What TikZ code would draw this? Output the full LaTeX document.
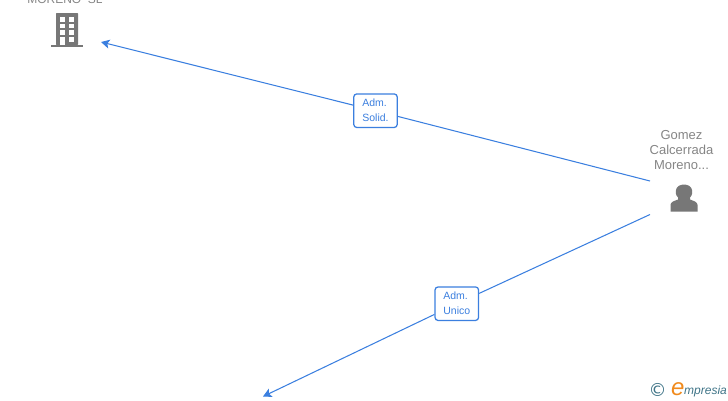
\documentclass[tikz,border=0pt]{standalone}
\usepackage{fontspec}
\setmainfont{Liberation Sans}
\newfontfamily\logofont{DejaVu Sans}
\usetikzlibrary{arrows.meta}
\definecolor{linkblue}{HTML}{3B7FDF}
\definecolor{icongray}{HTML}{777777}
\definecolor{labelgray}{HTML}{858585}
\definecolor{logoteal}{HTML}{3F7487}
\definecolor{logoorange}{HTML}{F08A1D}
\tikzset{
 link/.style={draw=linkblue,line width=1.05pt},
 arrowlink/.style={link,-{Stealth[length=8.5pt,width=9pt,inset=2pt]}},
 tag/.style={draw=linkblue,fill=white,rounded corners=3pt,line width=1.25pt,minimum width=43.5pt,minimum height=33.5pt,inner sep=0pt,align=left,text=linkblue,font=\fontsize{10.5}{15}\selectfont},
 namelabel/.style={text=labelgray,align=center,inner sep=0pt,font=\fontsize{13}{15}\selectfont}
}
\begin{document}
\begin{tikzpicture}[x=1pt,y=-1pt]
\useasboundingbox (0,0) rectangle (728,400);
% free ends
\coordinate (topend) at (101,42);
\coordinate (botend) at (263,396.5);
\coordinate (persA) at (650,181);
\coordinate (persB) at (650,214.5);
% labels
\node[tag] (solid) at (375.5,110.7) {\rule{0pt}{7pt}Adm.\\Solid.};
\node[tag] (unico) at (456.8,303.7) {\rule{0pt}{7pt}Adm.\\Unico};
% connectors
\draw[link] (persA) -- (solid);
\draw[arrowlink] (solid) -- (topend);
\draw[link] (persB) -- (unico);
\draw[arrowlink] (unico) -- (botend);
% company label
\node[namelabel,anchor=base,font=\fontsize{12}{15}\selectfont] (company) at (65,3) {MORENO\ \ SL};
% building icon
\fill[icongray,rounded corners=0.6pt] (56,13) rectangle (78,45);
\fill[icongray] (51,44.5) rectangle (83,47);
\foreach \yy in {17,23.5,30}{
  \fill[white] (59.8,\yy) rectangle (64.5,\yy+4.5);
  \fill[white] (69.3,\yy) rectangle (74,\yy+4.5);
}
\fill[white] (59.8,37) rectangle (64.5,44.5);
\fill[white] (69.3,37) rectangle (74,41.5);
% person label
\node[namelabel,anchor=base] (person) at (681.5,139) {Gomez};
\node[namelabel,anchor=base] (person2) at (681.5,154) {Calcerrada};
\node[namelabel,anchor=base] (person3) at (681.5,169) {Moreno...};
% person icon
\fill[icongray] (670.5,211.5) -- (670.5,205) .. controls (670.5,202) and (674,201) .. (678,199.5)
  -- (678,197.5) .. controls (675.5,195) and (675.5,192) .. (676,190)
  .. controls (676.5,186.5) and (680,184.5) .. (684,184.5)
  .. controls (688,184.5) and (691.5,186.5) .. (692,190)
  .. controls (692.5,192) and (692.5,195) .. (690,197.5)
  -- (690,199.5) .. controls (694,201) and (697.5,202) .. (697.5,205) -- (697.5,211.5) -- cycle;
% logo
\node[inner sep=0pt,text=logoteal,font=\logofont\fontsize{18}{18}\selectfont] (copy) at (657.7,389.5) {©};
\node[inner sep=0pt,anchor=base west,text=logoorange,font=\fontsize{24}{24}\selectfont\itshape] (logoe) at (671,395) {e};
\node[inner sep=0pt,anchor=base west,text=logoteal,font=\fontsize{12}{12}\selectfont\itshape] (logotext) at (684,394) {mpresia};
\end{tikzpicture}
\end{document}
